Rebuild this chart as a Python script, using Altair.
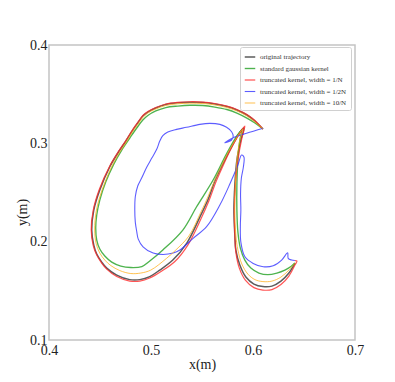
import altair as alt
import pandas as pd

# ---- data ----
black_x = [0.6097, 0.6019, 0.5940, 0.5842, 0.5744, 0.5626, 0.5508, 0.5381, 0.5263, 0.5145,
           0.5047, 0.4969, 0.4920, 0.4870, 0.4821, 0.4753, 0.4694, 0.4596, 0.4498, 0.4439,
           0.4419, 0.4439, 0.4468, 0.4517, 0.4566, 0.4664, 0.4792, 0.4890, 0.4988, 0.5086,
           0.5214, 0.5351, 0.5479, 0.5557, 0.5626, 0.5695, 0.5763, 0.5832, 0.5881, 0.5911,
           0.5881, 0.5842, 0.5822, 0.5813, 0.5822, 0.5832, 0.5871, 0.5930, 0.6009, 0.6097,
           0.6186, 0.6274, 0.6352, 0.6411]
black_y = [0.3145, 0.3227, 0.3288, 0.3339, 0.3374, 0.3400, 0.3415, 0.3418, 0.3412, 0.3395,
           0.3359, 0.3318, 0.3278, 0.3207, 0.3135, 0.3023, 0.2932, 0.2762, 0.2525, 0.2321,
           0.2118, 0.1965, 0.1874, 0.1792, 0.1731, 0.1660, 0.1614, 0.1614, 0.1645, 0.1711,
           0.1813, 0.1986, 0.2250, 0.2423, 0.2617, 0.2769, 0.2911, 0.3044, 0.3125, 0.3156,
           0.3034, 0.2830, 0.2576, 0.2321, 0.2067, 0.1915, 0.1762, 0.1640, 0.1569, 0.1543,
           0.1548, 0.1599, 0.1681, 0.1782]

green_x = [0.6097, 0.6019, 0.5940, 0.5842, 0.5744, 0.5626, 0.5508, 0.5381, 0.5263, 0.5145,
           0.5047, 0.4969, 0.4920, 0.4860, 0.4792, 0.4713, 0.4635, 0.4556, 0.4498, 0.4468,
           0.4458, 0.4468, 0.4498, 0.4547, 0.4615, 0.4704, 0.4802, 0.4910, 0.4988, 0.5116,
           0.5312, 0.5447, 0.5609, 0.5734, 0.5822, 0.5871, 0.5891, 0.5871, 0.5852, 0.5842,
           0.5842, 0.5852, 0.5876, 0.5920, 0.5979, 0.6058, 0.6146, 0.6234, 0.6313, 0.6372,
           0.6411]
green_y = [0.3145, 0.3207, 0.3257, 0.3308, 0.3344, 0.3369, 0.3385, 0.3387, 0.3379, 0.3364,
           0.3329, 0.3283, 0.3237, 0.3156, 0.3054, 0.2932, 0.2789, 0.2606, 0.2423, 0.2271,
           0.2138, 0.2016, 0.1925, 0.1854, 0.1792, 0.1752, 0.1737, 0.1747, 0.1803, 0.1915,
           0.2118, 0.2355, 0.2627, 0.2881, 0.3044, 0.3115, 0.3135, 0.3034, 0.2830, 0.2576,
           0.2321, 0.2098, 0.1935, 0.1813, 0.1731, 0.1681, 0.1665, 0.1681, 0.1711, 0.1747,
           0.1782]

red_x = [0.6097, 0.6019, 0.5940, 0.5842, 0.5744, 0.5626, 0.5508, 0.5381, 0.5263, 0.5145,
         0.5047, 0.4969, 0.4920, 0.4870, 0.4821, 0.4753, 0.4694, 0.4596, 0.4493, 0.4434,
         0.4414, 0.4434, 0.4468, 0.4517, 0.4566, 0.4664, 0.4792, 0.4890, 0.4988, 0.5106,
         0.5234, 0.5361, 0.5489, 0.5567, 0.5636, 0.5705, 0.5773, 0.5842, 0.5891, 0.5920,
         0.5891, 0.5852, 0.5827, 0.5817, 0.5822, 0.5832, 0.5866, 0.5925, 0.6009, 0.6097,
         0.6186, 0.6274, 0.6352, 0.6411, 0.6431, 0.6411]
red_y = [0.3145, 0.3232, 0.3293, 0.3344, 0.3379, 0.3405, 0.3420, 0.3423, 0.3417, 0.3400,
         0.3364, 0.3323, 0.3283, 0.3212, 0.3140, 0.3028, 0.2937, 0.2769, 0.2530, 0.2321,
         0.2118, 0.1960, 0.1864, 0.1782, 0.1721, 0.1645, 0.1599, 0.1599, 0.1630, 0.1701,
         0.1798, 0.1965, 0.2230, 0.2413, 0.2606, 0.2769, 0.2922, 0.3054, 0.3135, 0.3176,
         0.3054, 0.2830, 0.2576, 0.2321, 0.2067, 0.1894, 0.1731, 0.1609, 0.1533, 0.1508,
         0.1513, 0.1564, 0.1650, 0.1762, 0.1803, 0.1808]

blue_x = [0.6100, 0.5937, 0.5806, 0.5724, 0.5790, 0.5806, 0.5790, 0.5741, 0.5675, 0.5577,
          0.5479, 0.5348, 0.5250, 0.5165, 0.5116, 0.5086, 0.5057, 0.5008, 0.4959, 0.4907,
          0.4870, 0.4846, 0.4841, 0.4846, 0.4861, 0.4875, 0.4922, 0.5021, 0.5119, 0.5217,
          0.5283, 0.5413, 0.5545, 0.5675, 0.5773, 0.5852, 0.5888, 0.5911, 0.5906, 0.5886,
          0.5878, 0.5881, 0.5876, 0.5881, 0.5921, 0.6002, 0.6100, 0.6198, 0.6281, 0.6340,
          0.6345, 0.6379, 0.6411]
blue_y = [0.3153, 0.3102, 0.3057, 0.3006, 0.3034, 0.3074, 0.3118, 0.3163, 0.3193, 0.3203,
          0.3193, 0.3163, 0.3142, 0.3115, 0.3079, 0.3023, 0.2942, 0.2850, 0.2759, 0.2644,
          0.2566, 0.2457, 0.2321, 0.2199, 0.2098, 0.2026, 0.1948, 0.1884, 0.1869, 0.1884,
          0.1915, 0.2034, 0.2152, 0.2372, 0.2586, 0.2779, 0.2881, 0.2861, 0.2762, 0.2647,
          0.2491, 0.2321, 0.2159, 0.1996, 0.1846, 0.1779, 0.1745, 0.1755, 0.1813, 0.1887,
          0.1830, 0.1813, 0.1808]

orange_x = [0.6097, 0.6019, 0.5940, 0.5842, 0.5744, 0.5626, 0.5508, 0.5381, 0.5263, 0.5145,
            0.5047, 0.4969, 0.4920, 0.4870, 0.4821, 0.4753, 0.4694, 0.4606, 0.4517, 0.4463,
            0.4448, 0.4463, 0.4498, 0.4547, 0.4606, 0.4694, 0.4802, 0.4900, 0.4998, 0.5152,
            0.5243, 0.5371, 0.5489, 0.5557, 0.5626, 0.5695, 0.5763, 0.5832, 0.5881, 0.5900,
            0.5871, 0.5842, 0.5827, 0.5822, 0.5832, 0.5852, 0.5891, 0.5950, 0.6019, 0.6097,
            0.6186, 0.6274, 0.6352, 0.6411]
orange_y = [0.3145, 0.3217, 0.3278, 0.3329, 0.3364, 0.3390, 0.3405, 0.3408, 0.3402, 0.3385,
            0.3349, 0.3308, 0.3262, 0.3191, 0.3120, 0.3003, 0.2911, 0.2744, 0.2515, 0.2311,
            0.2118, 0.1976, 0.1884, 0.1813, 0.1757, 0.1706, 0.1676, 0.1681, 0.1711, 0.1830,
            0.1915, 0.2057, 0.2301, 0.2454, 0.2627, 0.2779, 0.2922, 0.3044, 0.3125, 0.3145,
            0.3034, 0.2830, 0.2576, 0.2321, 0.2067, 0.1915, 0.1772, 0.1670, 0.1614, 0.1594,
            0.1599, 0.1640, 0.1711, 0.1782]

series_names = [
    "original trajectory",
    "standard gaussian kernel",
    "truncated kernel, width = 1/N",
    "truncated kernel, width = 1/2N",
    "truncated kernel, width = 10/N",
]
series_colors = ["#333333", "#22a022", "#ff2a2a", "#3535ff", "#ffae1a"]
series_widths = [1.5, 0.95, 0.95, 0.95, 0.95]
xs = [black_x, green_x, red_x, blue_x, orange_x]
ys = [black_y, green_y, red_y, blue_y, orange_y]

x_ticks = [0.4, 0.5, 0.6, 0.7]
y_ticks = [0.1, 0.2, 0.3, 0.4]

rows = []
for k, (name, sx, sy) in enumerate(zip(series_names, xs, ys)):
    for i, (a, b) in enumerate(zip(sx, sy)):
        rows.append({"x": a, "y": b, "series": name, "i": i, "k": k})
df = pd.DataFrame(rows)

FONT = "Liberation Serif, DejaVu Serif, serif"

chart = alt.Chart(df).mark_line(interpolate="catmull-rom", opacity=0.8).encode(
    x=alt.X("x:Q", scale=alt.Scale(domain=[0.4, 0.7], nice=False, zero=False),
            axis=alt.Axis(values=x_ticks, format=".1f", title="x(m)", grid=False,
                          domain=False, tickSize=0, labelPadding=3, titlePadding=0,
                          labelFlush=False, labelOverlap=False,
                          labelFont=FONT, titleFont=FONT, labelFontSize=14, titleFontSize=14,
                          labelColor="#222", titleColor="#222", titleFontWeight="normal")),
    y=alt.Y("y:Q", scale=alt.Scale(domain=[0.1, 0.4], nice=False, zero=False),
            axis=alt.Axis(values=y_ticks, format=".1f", title="y(m)", grid=False,
                          domain=False, tickSize=0, labelPadding=2,
                          labelFlush=False, labelOverlap=False,
                          titleX=-20, titleY=167,
                          labelFont=FONT, titleFont=FONT, labelFontSize=14, titleFontSize=14,
                          labelColor="#222", titleColor="#222", titleFontWeight="normal")),
    color=alt.Color("series:N",
                    scale=alt.Scale(domain=series_names, range=series_colors),
                    sort=series_names,
                    legend=alt.Legend(title=None, orient="none", legendX=191, legendY=2,
                                      symbolType="stroke", symbolStrokeWidth=1.5,
                                      symbolSize=110, labelFont=FONT, labelFontSize=7,
                                      labelColor="#333", strokeColor="#d0d0d0",
                                      fillColor="white", padding=4, cornerRadius=2,
                                      rowPadding=2.5, labelLimit=200)),
    strokeWidth=alt.StrokeWidth("series:N",
                                scale=alt.Scale(domain=series_names, range=series_widths),
                                legend=None),
    order=alt.Order("i:Q"),
).properties(
    width=306,
    height=295,
    autosize=alt.AutoSizeParams(type="none"),
    padding={"left": 41, "top": 37, "right": 20, "bottom": 40},
).configure(
    font=FONT
).configure_view(
    stroke="#c4c4c4", strokeWidth=1.5
)

chart.save("out.html", embed_options={"renderer": "svg", "actions": False})
